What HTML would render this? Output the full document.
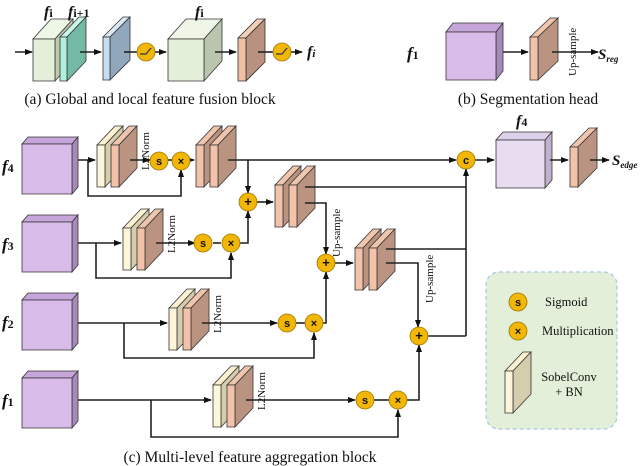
<!DOCTYPE html>
<html><head><meta charset="utf-8"><style>
html,body{margin:0;padding:0;background:#fff}
svg{display:block}
text{font-family:"Liberation Serif",serif;fill:#111}
.b{font-weight:bold;font-style:italic}
</style></head><body>
<svg id="s" width="640" height="466" viewBox="0 0 640 466" xmlns="http://www.w3.org/2000/svg">
<defs><marker id="a" markerWidth="8" markerHeight="8" refX="7" refY="4" orient="auto" markerUnits="userSpaceOnUse"><path d="M0,1 L8,4 L0,7 z" fill="#111"/></marker></defs>
<g id="shapes"></g>
<g id="lines" fill="none" stroke="#222" stroke-width="1.6"></g>
<g id="circ"></g>
<text x="44" y="17" class="b" font-size="16">f<tspan font-size="12" font-style="normal">i</tspan></text>
<text x="68" y="17" class="b" font-size="16">f<tspan font-size="12" font-style="normal">i+1</tspan></text>
<text x="195" y="17" class="b" font-size="16">f<tspan font-size="12" font-style="normal">i</tspan></text>
<text x="307" y="57" class="b" font-size="16">f<tspan font-size="11">i</tspan></text>
<text x="150" y="104" font-size="15.5" text-anchor="middle">(a) Global and local feature fusion block</text>
<text x="407" y="59" class="b" font-size="17">f<tspan font-size="12" font-style="normal">1</tspan></text>
<text x="598" y="59" class="b" font-size="15">S<tspan font-size="9" dy="3">reg</tspan></text>
<text transform="translate(576,76) rotate(-90)" font-size="11">Up-sample</text>
<text x="528" y="104" font-size="15.5" text-anchor="middle">(b) Segmentation head</text>
<text x="516" y="126" class="b" font-size="16">f<tspan font-size="12" font-style="normal">4</tspan></text>
<text x="612" y="165" class="b" font-size="15">S<tspan font-size="9" dy="3">edge</tspan></text>
<text x="2" y="172" class="b" font-size="17">f<tspan font-size="12" font-style="normal">4</tspan></text>
<text x="2" y="250" class="b" font-size="17">f<tspan font-size="12" font-style="normal">3</tspan></text>
<text x="2" y="328" class="b" font-size="17">f<tspan font-size="12" font-style="normal">2</tspan></text>
<text x="2" y="406" class="b" font-size="17">f<tspan font-size="12" font-style="normal">1</tspan></text>
<text transform="translate(149,170) rotate(-90)" font-size="11">L2Norm</text>
<text transform="translate(175,253) rotate(-90)" font-size="11">L2Norm</text>
<text transform="translate(221,333) rotate(-90)" font-size="11">L2Norm</text>
<text transform="translate(265,410) rotate(-90)" font-size="11">L2Norm</text>
<text transform="translate(340,257) rotate(-90)" font-size="11">Up-sample</text>
<text transform="translate(433,303) rotate(-90)" font-size="11">Up-sample</text>
<text x="250" y="462" font-size="15.5" text-anchor="middle">(c) Multi-level feature aggregation block</text>
<rect x="486" y="272" width="131" height="157" rx="13" fill="#e3efd9" stroke="#a9c6e2" stroke-width="1.2" stroke-dasharray="4,3"/>
<text x="545" y="306" font-size="12.5">Sigmoid</text>
<text x="542" y="335" font-size="12.5">Multiplication</text>
<text x="569" y="381" font-size="12.5" text-anchor="middle">SobelConv</text>
<text x="569" y="396" font-size="12.5" text-anchor="middle">+ BN</text>
<g id="leg"></g>
</svg>
<script>
var NS="http://www.w3.org/2000/svg";
function el(p,t,a){var e=document.createElementNS(NS,t);for(var k in a)e.setAttribute(k,a[k]);document.getElementById(p).appendChild(e);return e;}
function poly(p,pts,f){el(p,'polygon',{points:pts.map(function(q){return q.join(',')}).join(' '),fill:f,stroke:'#333','stroke-width':0.8});}
function box(g,x,y,w,h,dx,dy,fc,tc,sc){
 poly(g,[[x,y],[x+dx,y-dy],[x+w+dx,y-dy],[x+w,y]],tc);
 poly(g,[[x+w,y],[x+w+dx,y-dy],[x+w+dx,y+h-dy],[x+w,y+h]],sc);
 poly(g,[[x,y],[x+w,y],[x+w,y+h],[x,y+h]],fc);
}
var CR=['#fdf6da','#fbf1d0','#d6cdae'],BR=['#f2c3aa','#f0c5ad','#bb9481'],PU=['#d8bbe9','#c6a6da','#a889bc'];
function slab(x,y,c,g){box(g||'shapes',x,y,8,42,18,19,c[0],c[1],c[2]);}
box('shapes',33,39,22,42,18,20,'#e3efd9','#eef6e6','#c1caaf');
box('shapes',60,37,7,44,19,20,'#b0f0dc','#c8f6e8','#74b9a3');
box('shapes',103,37,7,43,20,20,'#c8dcf0','#dde9f6','#91a7bc');
box('shapes',168,39,36,42,18,20,'#e4efd9','#eff6e8','#bac5ae');
box('shapes',238,38,8,43,19,19,'#f0c0a3','#f2d0b8','#b8927f');
box('shapes',446,32,50,48,7,9,PU[0],PU[1],PU[2]);
box('shapes',530,37,8,43,20,19,BR[0],BR[1],BR[2]);
[137,215,293,371].forEach(function(y){box('shapes',22,y+7,50,50,6,7,PU[0],PU[1],PU[2]);});
box('shapes',496,140,49,48,7,8,'#e8dcf1','#ddd0ea','#c2b0cf');
box('shapes',570,147,8,40,19,19,BR[0],BR[1],BR[2]);
slab(97,145,CR);slab(111,145,BR);slab(196,145,BR);slab(210,145,BR);
slab(123,228,CR);slab(137,228,BR);
slab(169,308,CR);slab(183,308,BR);
slab(213,385,CR);slab(227,385,BR);
slab(275,185,BR);slab(289,185,BR);
slab(355,248,BR);slab(369,248,BR);
slab(505,371,CR,'leg');
function L(d,ar){var a={d:d};if(ar)a['marker-end']='url(#a)';el('lines','path',a);}
L('M15,52 H32',1);L('M80,52 H101',1);L('M124,52 H137');L('M155,52 H166',1);L('M215,52 H236',1);L('M258,52 H273');L('M291,52 H302',1);
L('M503,52 H528',1);L('M552,52 H598',1);
L('M78,160 H95',1);L('M88,160 V196 H181 V170',1);L('M130,160 H150',1);L('M168,160 H172');L('M190,160 H194',1);
L('M228,160 H456',1);L('M248,160 V193',1);L('M475,160 H494',1);L('M550,160 H568',1);L('M590,160 H609',1);
L('M78,243 H121',1);L('M96,243 V278 H231 V253',1);L('M156,243 H195',1);L('M213,243 H221');L('M240,243 H248 V211',1);
L('M257,202 H273',1);L('M305,187 H466');L('M305,203 H326 V254',1);L('M466,336 V169',1);
L('M78,323 H167',1);L('M124,323 V358 H314 V333',1);L('M202,323 H277',1);L('M296,323 H305');L('M323,323 H326 V272',1);
L('M335,263 H353',1);L('M386,249 H466');L('M386,263 H418 V327',1);L('M428,336 H466');
L('M78,400 H211',1);L('M151,400 V437 H398 V410',1);L('M246,400 H355',1);L('M374,400 H389');L('M407,400 H419 V345',1);
function C(x,y,t,g){el(g||'circ','circle',{cx:x,cy:y,r:9,fill:'#f2b705',stroke:'#9a7400','stroke-width':0.8});
 if(t==='r'){el(g||'circ','path',{d:'M'+(x-6)+','+(y+2)+' H'+x+' L'+(x+5)+','+(y-4),stroke:'#333',fill:'none','stroke-width':1.2});return;}
 var tx=el(g||'circ','text',{x:x,y:y+4,'text-anchor':'middle','font-size':t==='+'?13:11,'font-weight':'bold'});tx.setAttribute('style','font-family:"Liberation Sans",sans-serif');tx.textContent=t;}
C(146,52,'r');C(282,52,'r');
C(159,161,'s');C(181,161,'×');C(203,243,'s');C(231,243,'×');C(287,323,'s');C(314,323,'×');C(365,400,'s');C(398,400,'×');
C(248,202,'+');C(326,263,'+');C(419,336,'+');C(466,160,'c');
C(518,302,'s','leg');C(518,331,'×','leg');
</script>
</body></html>
